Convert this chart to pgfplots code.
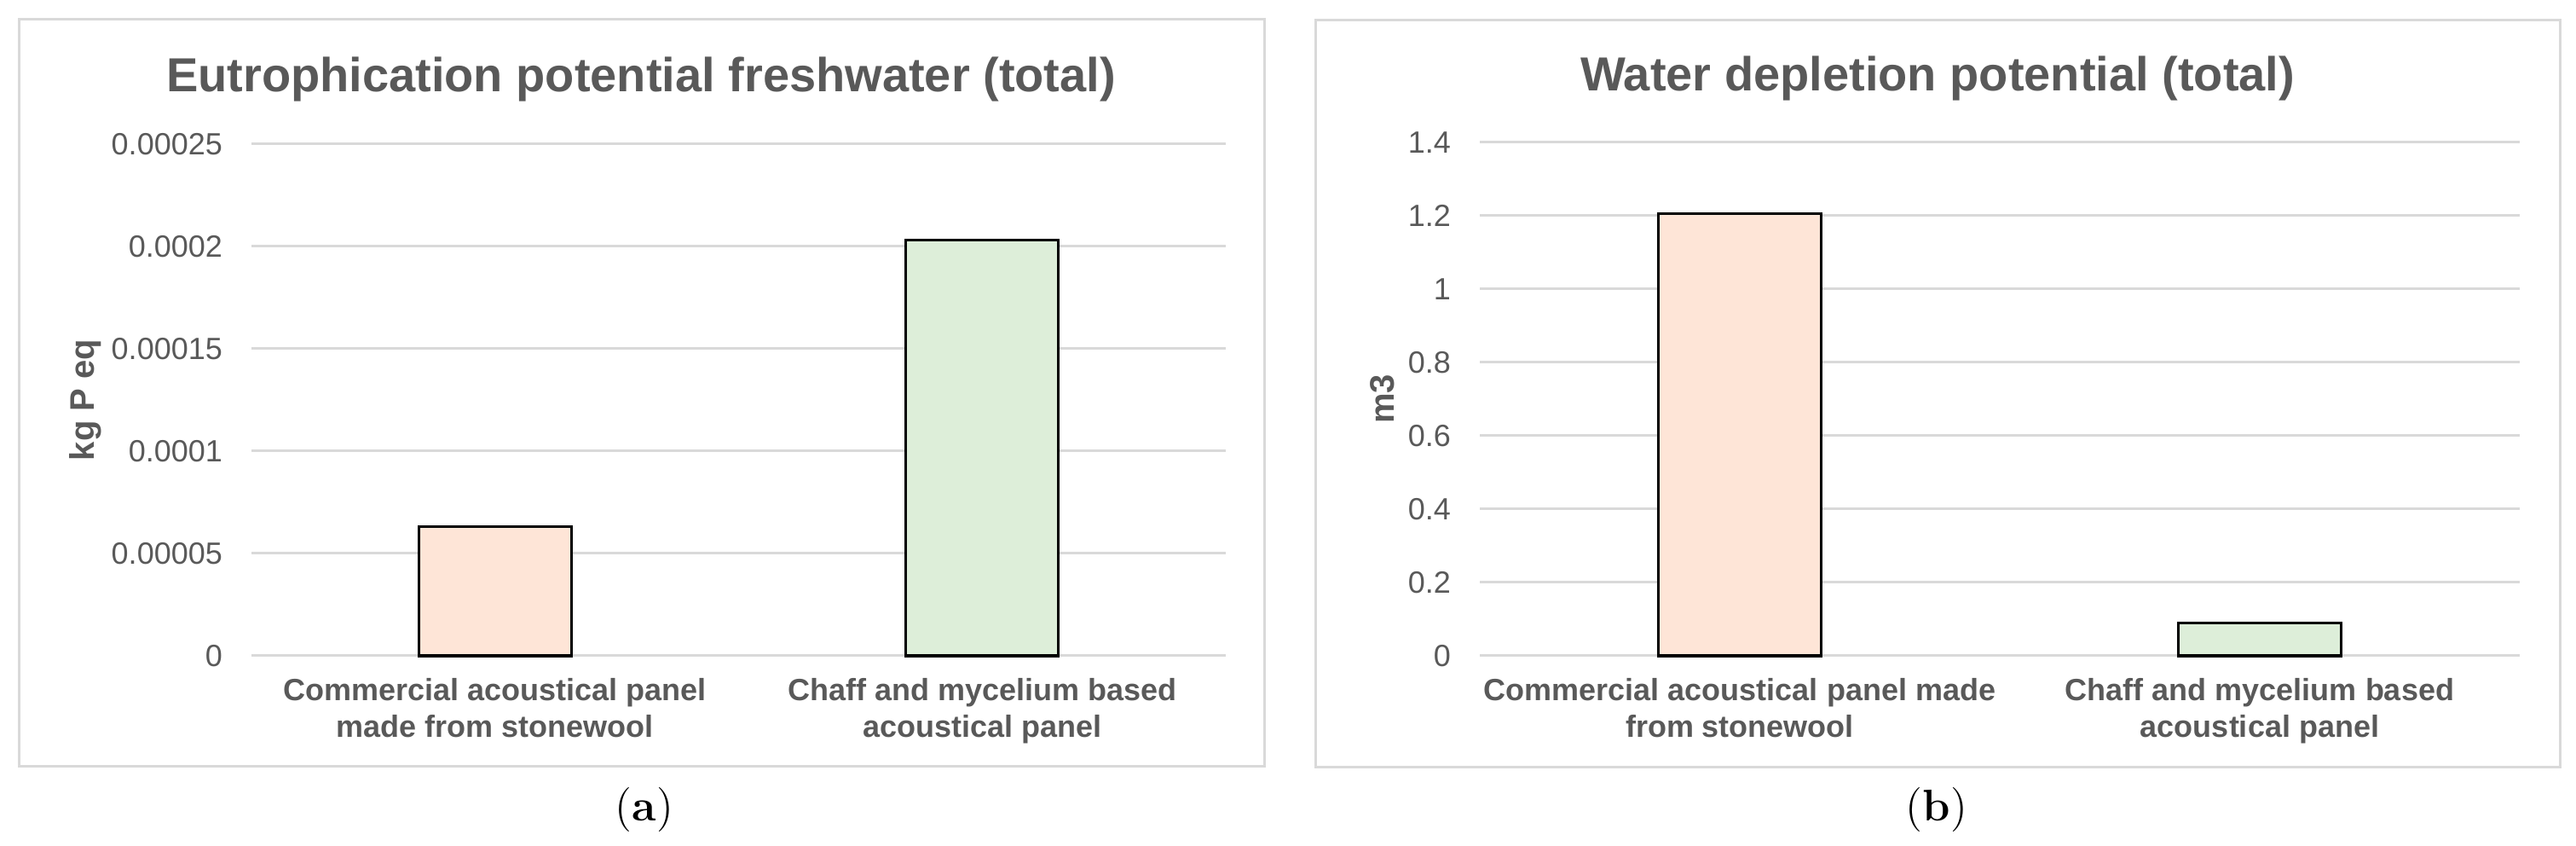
\documentclass[border=0pt]{standalone}
\usepackage{fontspec}
\usepackage{pgfplots}
\pgfplotsset{compat=1.18}
\newfontfamily\arial{Liberation Sans}
\definecolor{txt}{HTML}{595959}
\definecolor{gridc}{HTML}{D9D9D9}
\definecolor{peach}{HTML}{FEE5D7}
\definecolor{mint}{HTML}{DDEED9}
\tikzset{titlenode/.style={font=\arial\bfseries\fontsize{14}{16}\selectfont, text=txt, anchor=base, inner sep=0pt}}
\pgfplotsset{
 mystyle/.style={
  scale only axis,
  anchor=south west,
  xmin=-0.5, xmax=1.5,
  xtick={0,1},
  ymin=0,
  axis line style={draw=none},
  major tick length=0pt,
  ymajorgrids,
  grid style={gridc, line width=0.75pt},
  scaled y ticks=false,
  /pgf/number format/assume math mode=true,
  yticklabel style={font=\arial\fontsize{9}{10}\selectfont, text=txt, anchor=east, xshift=-5pt},
  xticklabel style={font=\arial\bfseries\fontsize{9}{10.75}\selectfont, text=txt, align=center, anchor=north, yshift=-3pt},
  ylabel style={font=\arial\bfseries\fontsize{10}{12}\selectfont, text=txt, anchor=center},
  clip=false,
 },
}
\begin{document}
\begin{tikzpicture}
\path[use as bounding box] (0,0) rectangle (755.5pt,-248pt);
\draw[gridc, line width=0.75pt] (5.5pt,-5.75pt) rectangle (370.75pt,-224.75pt);
\draw[gridc, line width=0.75pt] (385.75pt,-6pt) rectangle (750.75pt,-225pt);
\begin{axis}[mystyle,
  at={(73.75pt,-192.25pt)},
  width=285.75pt, height=150pt,
  ymax=0.00025,
  ytick={0,0.00005,0.0001,0.00015,0.0002,0.00025},
  yticklabels={0,0.00005,0.0001,0.00015,0.0002,0.00025},
  xticklabels={{Commercial acoustical panel\\made from stonewool},{Chaff and mycelium based\\acoustical panel}},
  ylabel={kg P eq},
  ylabel style={at={(axis description cs:-0.1706,0.5)}},
]
\addplot[ybar, bar width=44.75pt, bar shift=0pt, fill=peach, draw=black, line width=0.8pt] coordinates {(0,0.000063)};
\addplot[ybar, bar width=44.75pt, bar shift=0pt, fill=mint, draw=black, line width=0.8pt] coordinates {(1,0.000203)};
\node[titlenode] at (rel axis cs:0.3998,1.1033) {Eutrophication potential freshwater (total)};
\end{axis}
\begin{axis}[mystyle,
  at={(434pt,-192.25pt)},
  width=305pt, height=150.5pt,
  ymax=1.4,
  ytick={0,0.2,0.4,0.6,0.8,1,1.2,1.4},
  yticklabels={0,0.2,0.4,0.6,0.8,1,1.2,1.4},
  xticklabels={{Commercial acoustical panel made\\from stonewool},{Chaff and mycelium based\\acoustical panel}},
  ylabel={m3},
  ylabel style={at={(axis description cs:-0.0934,0.5)}},
]
\addplot[ybar, bar width=47.75pt, bar shift=0pt, fill=peach, draw=black, line width=0.8pt] coordinates {(0,1.205)};
\addplot[ybar, bar width=47.75pt, bar shift=0pt, fill=mint, draw=black, line width=0.8pt] coordinates {(1,0.09)};
\node[titlenode] at (rel axis cs:0.4402,1.101) {Water depletion potential (total)};
\end{axis}
\node[anchor=base, font=\fontsize{13}{15}\selectfont] at (189pt,-240.75pt) {(\textbf{a})};
\node[anchor=base, font=\fontsize{13}{15}\selectfont] at (568pt,-240.75pt) {(\textbf{b})};
\end{tikzpicture}
\end{document}
